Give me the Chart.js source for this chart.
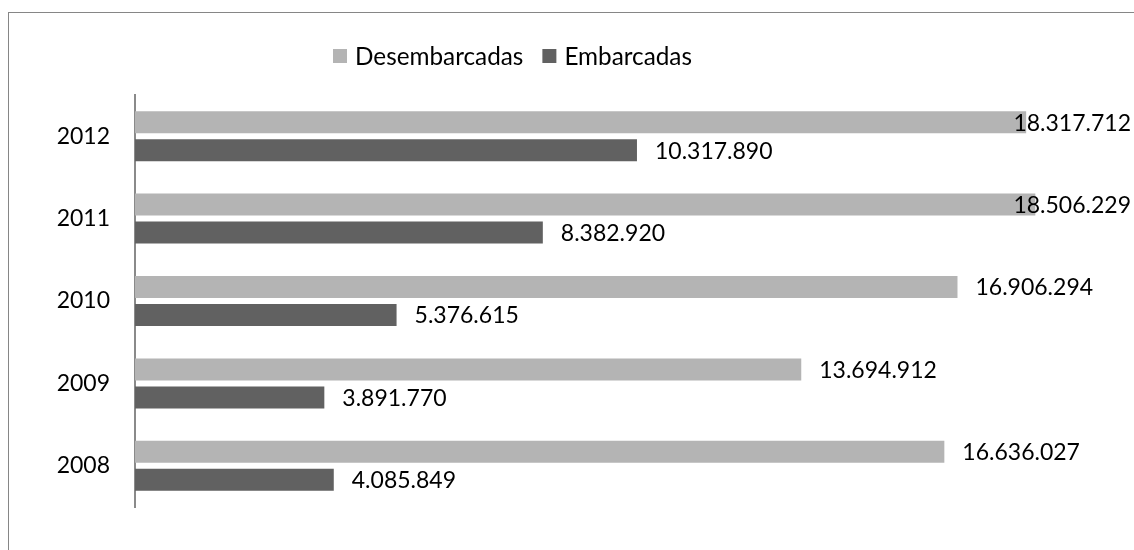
<!DOCTYPE html>
<html>
<head>
<meta charset="utf-8">
<script src="https://cdn.jsdelivr.net/npm/chart.js@4.4.0/dist/chart.umd.min.js"></script>
<style>
  html, body { margin: 0; padding: 0; background: #fff; }
  #wrap { width: 1134px; height: 550px; }
</style>
</head>
<body>
<div id="wrap"><canvas id="cargas"></canvas></div>
<script>
const anos = ['2012', '2011', '2010', '2009', '2008'];
const desembarcadas = [18317712, 18506229, 16906294, 13694912, 16636027];
const embarcadas = [10317890, 8382920, 5376615, 3891770, 4085849];
const nomesSeries = ['Desembarcadas', 'Embarcadas'];
const coresSeries = ['rgb(180, 180, 180)', 'rgb(97, 97, 97)'];

const fonte = 'Lato, "Open Sans", sans-serif';
const tamFonte = 23;
const tamLegenda = 24.3;

function formatar(v) {
    return String(v).replace(/\B(?=(\d{3})+(?!\d))/g, '.');
}

// moldura, legenda e rótulos de valor
const extras = {
    id: 'extras',
    beforeDraw(chart) {
        const c = chart.ctx;
        c.save();
        c.strokeStyle = '#868686';
        c.lineWidth = 1;
        c.strokeRect(8.5, 12.5, chart.width + 20, chart.height + 20);
        c.restore();
    },
    afterDatasetsDraw(chart) {
        const c = chart.ctx;
        c.save();
        c.font = tamFonte + 'px ' + fonte;
        c.fillStyle = '#000';
        c.textBaseline = 'middle';
        chart.data.datasets.forEach((ds, i) => {
            chart.getDatasetMeta(i).data.forEach((bar, j) => {
                const txt = formatar(ds.data[j]);
                const w = c.measureText(txt).width;
                const x = Math.min(bar.x + 18, chart.width - 3 - w);
                c.fillText(txt, x, bar.y + 1);
            });
        });

        // legenda
        c.font = tamLegenda + 'px ' + fonte;
        let x = 333;
        const y = 56;
        chart.data.datasets.forEach((ds) => {
            c.fillStyle = ds.backgroundColor;
            c.fillRect(x, y - 7, 14, 14);
            x += 22;
            c.fillStyle = '#000';
            c.fillText(ds.label, x, y + 1);
            x += c.measureText(ds.label).width + 19;
        });
        c.restore();
    }
};

new Chart(document.getElementById('cargas'), {
    type: 'bar',
    data: {
        labels: anos,
        datasets: [{
            label: nomesSeries[0],
            data: desembarcadas,
            backgroundColor: coresSeries[0]
        }, {
            label: nomesSeries[1],
            data: embarcadas,
            backgroundColor: coresSeries[1]
        }]
    },
    options: {
        indexAxis: 'y',
        responsive: true,
        maintainAspectRatio: false,
        animation: false,
        datasets: {
            bar: { categoryPercentage: 0.68, barPercentage: 0.786 }
        },
        layout: { padding: { left: 0, top: 95, right: 26, bottom: 43 } },
        plugins: {
            legend: { display: false },
            tooltip: { enabled: false }
        },
        scales: {
            x: {
                display: false,
                min: 0,
                max: 20000000
            },
            y: {
                grid: { display: false, drawTicks: false },
                border: { display: true, color: '#8a8a8a', width: 2 },
                ticks: {
                    color: '#000',
                    padding: 25,
                    font: { family: fonte, size: tamFonte }
                },
                afterFit(scale) { scale.width = 135; }
            }
        }
    },
    plugins: [extras]
});
</script>
</body>
</html>
